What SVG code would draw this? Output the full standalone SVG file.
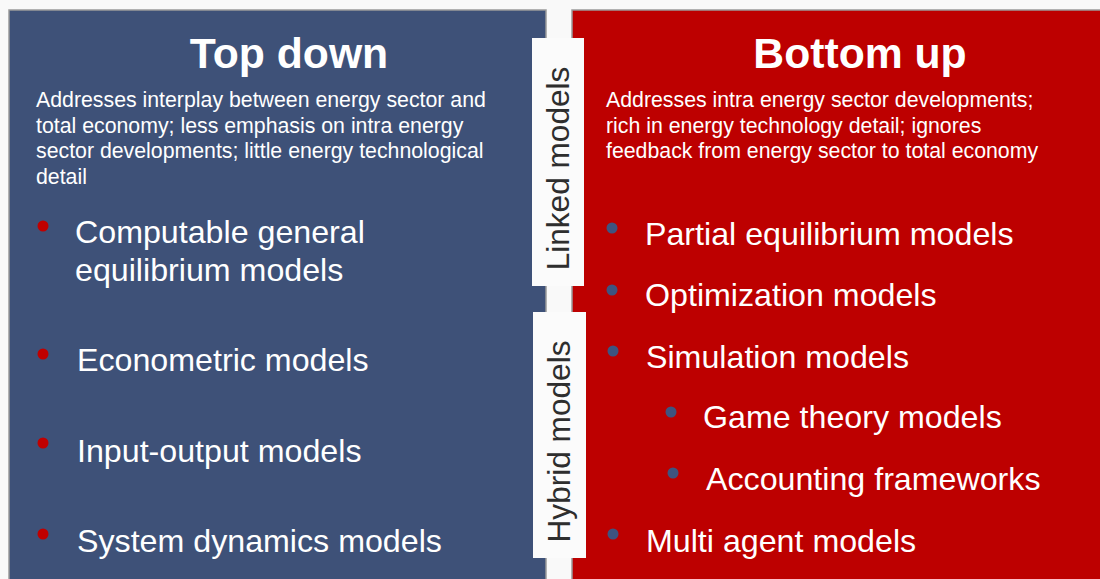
<svg xmlns="http://www.w3.org/2000/svg" width="1100" height="579" viewBox="0 0 1100 579">
<style>
.panel{stroke:#9a9a9a;stroke-width:1.5}
.title{font-family:"Liberation Sans",Arial,sans-serif;font-weight:bold;font-size:42.7px;fill:#fff;text-anchor:middle}
.desc{font-family:"Liberation Sans",Arial,sans-serif;font-size:21.3px;fill:#fff}
.item{font-family:"Liberation Sans",Arial,sans-serif;font-size:32.2px;fill:#fff}
.side{font-family:"Liberation Sans",Arial,sans-serif;font-size:31.6px;fill:#2e2e2e;text-anchor:middle}
.rdot{fill:#c00000}
.bdot{fill:#3e5480}
.tab{fill:#fbfbfb}
</style>
<rect x="0" y="0" width="1100" height="579" fill="#f9f9f9"/>
<g id="top-down">
<rect class="panel" x="9" y="10" width="537" height="575" fill="#3e5178"/>
<text class="title" x="289" y="68">Top down</text>
<text class="desc" x="36" y="107">Addresses interplay between energy sector and</text>
<text class="desc" x="36" y="132.5">total economy; less emphasis on intra energy</text>
<text class="desc" x="36" y="158">sector developments; little energy technological</text>
<text class="desc" x="36" y="183.5">detail</text>
<circle class="rdot" cx="43" cy="226" r="5.5"/>
<text class="item" x="75" y="243">Computable general</text>
<text class="item" x="75" y="281">equilibrium models</text>
<circle class="rdot" cx="43" cy="354" r="5.5"/>
<text class="item" x="77" y="371">Econometric models</text>
<circle class="rdot" cx="43" cy="443" r="5.5"/>
<text class="item" x="77" y="462">Input-output models</text>
<circle class="rdot" cx="43" cy="534" r="5.5"/>
<text class="item" x="77" y="552">System dynamics models</text>
</g>
<g id="bottom-up">
<rect class="panel" x="572" y="10" width="540" height="575" fill="#bd0000"/>
<text class="title" x="860" y="68">Bottom up</text>
<text class="desc" x="606" y="107">Addresses intra energy sector developments;</text>
<text class="desc" x="606" y="132.5">rich in energy technology detail; ignores</text>
<text class="desc" x="606" y="158">feedback from energy sector to total economy</text>
<circle class="bdot" cx="612" cy="228" r="5.5"/>
<text class="item" x="645" y="245">Partial equilibrium models</text>
<circle class="bdot" cx="612" cy="290" r="5.5"/>
<text class="item" x="645" y="306">Optimization models</text>
<circle class="bdot" cx="613" cy="351" r="5.5"/>
<text class="item" x="646" y="368">Simulation models</text>
<circle class="bdot" cx="671" cy="412" r="5.5"/>
<text class="item" x="703" y="428">Game theory models</text>
<circle class="bdot" cx="673" cy="473" r="5.5"/>
<text class="item" x="706" y="490">Accounting frameworks</text>
<circle class="bdot" cx="613" cy="534" r="5.5"/>
<text class="item" x="646" y="552">Multi agent models</text>
</g>
<g id="linked-models">
<rect class="tab" x="532" y="38" width="52" height="248"/>
<text class="side" transform="translate(569 168.5) rotate(-90)">Linked models</text>
</g>
<g id="hybrid-models">
<rect class="tab" x="533" y="312" width="53" height="246"/>
<text class="side" transform="translate(570 441.5) rotate(-90)">Hybrid models</text>
</g>
<g id="connectors"></g>
</svg>
